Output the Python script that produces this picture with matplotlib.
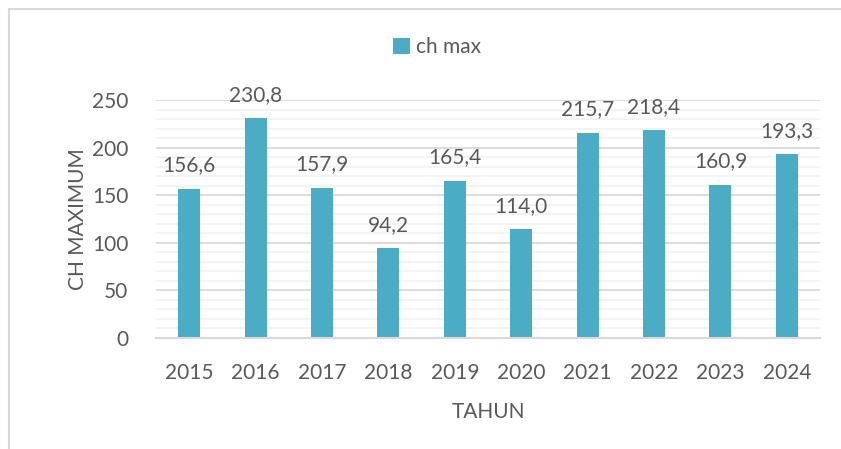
import matplotlib
matplotlib.use('Agg')
import matplotlib.pyplot as plt
from matplotlib.patches import Rectangle
from matplotlib.ticker import MultipleLocator

years = ['2015', '2016', '2017', '2018', '2019', '2020', '2021', '2022', '2023', '2024']
ch_max = [156.6, 230.8, 157.9, 94.2, 165.4, 114.0, 215.7, 218.4, 160.9, 193.3]

plt.rcParams['font.family'] = ['Lato', 'DejaVu Sans']
txt = '#595959'
bar_col = '#4BACC6'
fs = 15

fig = plt.figure(figsize=(8.41, 4.49), dpi=100)
ax = fig.add_axes([156 / 841, 1 - 338 / 449, (820 - 156) / 841, (338 - 100) / 449])

# chart border (only top/left visible in the reference)
fig.patches.append(Rectangle((9 / 841, -0.1), 1.2, 1 - 9 / 449 + 0.1,
                             transform=fig.transFigure, fill=False,
                             edgecolor='#D9D9D9', linewidth=1.5))

x = range(len(years))
bars = ax.bar(x, ch_max, width=0.33, color=bar_col, label='ch max', zorder=3)

for i, v in enumerate(ch_max):
    ax.text(i, v + 14, f'{v:.1f}'.replace('.', ','), ha='center', va='bottom',
            fontsize=fs, color=txt)

ax.set_xlim(-0.5, len(years) - 0.5)
ax.set_ylim(0, 250)
ax.yaxis.set_major_locator(MultipleLocator(50))
ax.yaxis.set_minor_locator(MultipleLocator(10))
ax.grid(axis='y', which='major', color='#D9D9D9', linewidth=1.3, zorder=0)
ax.grid(axis='y', which='minor', color='#F2F2F2', linewidth=1.3, zorder=0)
ax.set_axisbelow(True)

for s in ['top', 'right', 'left']:
    ax.spines[s].set_visible(False)
ax.spines['bottom'].set_color('#D9D9D9')
ax.spines['bottom'].set_linewidth(1.5)
ax.spines['bottom'].set_zorder(4)

ax.set_xticks(list(x))
ax.set_xticklabels(years)
ax.tick_params(axis='both', which='both', length=0, labelsize=fs, colors=txt)
ax.tick_params(axis='x', pad=18)
ax.tick_params(axis='y', pad=20)

ax.set_xlabel('TAHUN', fontsize=fs, color=txt, labelpad=14)
ax.set_ylabel('CH MAXIMUM', fontsize=fs, color=txt, labelpad=3)

fig.legend(handles=[bars], labels=['ch max'], loc='center', bbox_to_anchor=(437 / 841, 1 - 47 / 449),
           frameon=False, fontsize=fs, labelcolor=txt, handlelength=0.8, handleheight=0.8,
           handletextpad=0.3)

fig.savefig('out.png', dpi=100, facecolor='white')
